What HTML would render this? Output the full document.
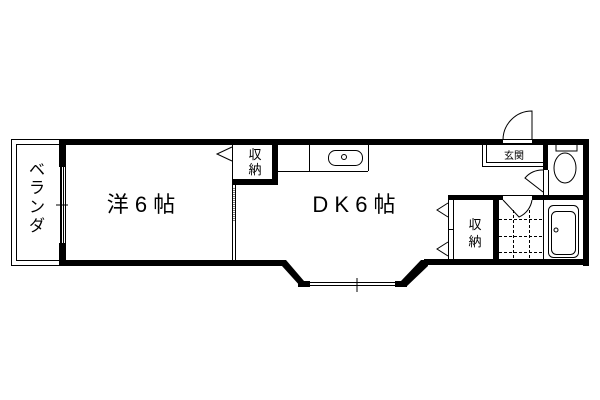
<!DOCTYPE html>
<html><head><meta charset="utf-8"><style>html,body{margin:0;padding:0;background:#fff}svg{display:block}</style></head><body>
<svg width="600" height="400" viewBox="0 0 600 400" xmlns="http://www.w3.org/2000/svg" font-family="Liberation Sans, Noto Sans CJK JP, sans-serif">
<rect width="600" height="400" fill="#fff"/>
<!-- balcony -->
<rect x="11.5" y="139.5" width="50" height="126" fill="none" stroke="#000"/>
<rect x="16.5" y="144.5" width="44" height="116" fill="none" stroke="#000"/>
<g font-size="16" text-anchor="middle" fill="#000">
<text x="37" y="175">ベ</text><text x="37" y="193">ラ</text><text x="37" y="212">ン</text><text x="37" y="231">ダ</text>
</g>
<line x1="56" y1="205" x2="68" y2="205" stroke="#000"/>
<!-- main walls -->
<g fill="#000">
<rect x="59" y="139" width="530" height="6"/>
<rect x="59" y="139" width="7" height="28"/>
<rect x="59" y="243" width="7" height="23"/>
<rect x="59" y="260" width="225" height="6"/>
<polygon points="281,260 286,260 304,281 301,287 282,266"/>
<rect x="298" y="281" width="12" height="6"/>
<rect x="395" y="281" width="12" height="6"/>
<polygon points="401,281 421,260 428,260 428,266 406,287"/>
<rect x="424" y="259" width="165" height="6"/>
<rect x="583" y="139" width="6" height="127"/>
<rect x="272" y="139" width="6" height="46"/>
<rect x="232" y="179" width="46" height="6"/>
<rect x="543" y="139" width="5" height="31"/>
<rect x="448" y="195" width="55" height="5"/>
<rect x="532" y="195" width="57" height="5"/>
<rect x="493" y="195" width="6" height="70"/>
<rect x="503" y="195" width="29" height="1"/>
</g>
<rect x="503" y="139" width="29" height="5" fill="#fff"/>
<line x1="503" y1="139.5" x2="532" y2="139.5" stroke="#000"/>
<line x1="503" y1="143.5" x2="532" y2="143.5" stroke="#000"/>
<g fill="none" stroke="#000" stroke-width="1">
<path d="M503 140 A29 29 0 0 1 532 111 L532 140"/>
<line x1="61.5" y1="167" x2="61.5" y2="243"/><line x1="63.5" y1="167" x2="63.5" y2="243"/><line x1="65.5" y1="167" x2="65.5" y2="243"/>
<line x1="310" y1="282.5" x2="395" y2="282.5"/><line x1="310" y1="285.5" x2="395" y2="285.5"/>
<line x1="357" y1="278" x2="357" y2="292"/>
<line x1="232.5" y1="185" x2="232.5" y2="260"/><line x1="235.5" y1="185" x2="235.5" y2="260"/>
<line x1="234" y1="188" x2="234" y2="222" stroke-dasharray="1,1"/>
<line x1="232.5" y1="145" x2="232.5" y2="179"/>
<polyline points="232,147 217,154 232,161"/>
<line x1="278" y1="171.5" x2="368" y2="171.5"/>
<line x1="368.5" y1="145" x2="368.5" y2="171"/>
<line x1="309.5" y1="145" x2="309.5" y2="171"/>
<rect x="328.5" y="150.5" width="34" height="15" rx="7"/>
<circle cx="344" cy="157" r="2.5"/>
<rect x="482.5" y="144.5" width="61" height="22"/>
<polyline points="486.5,145 486.5,162.5 543,162.5"/>
<line x1="548.5" y1="170" x2="548.5" y2="195"/>
<line x1="543.5" y1="170" x2="543.5" y2="195"/>
<path d="M543 170 A22 22 0 0 0 525 178 L543 192"/>
<path d="M556 145 L556 151 L577 151 L577 145"/>
<ellipse cx="565" cy="168" rx="11" ry="15"/>
<line x1="448.5" y1="200" x2="448.5" y2="259"/><line x1="453.5" y1="200" x2="453.5" y2="259"/>
<line x1="448" y1="229.5" x2="453" y2="229.5"/>
<polyline points="448,203 437,210 448,217"/>
<polyline points="448,242 437,249 448,256"/>
<path d="M503 200 L519 217 A22 22 0 0 0 532 200"/>
<g stroke-dasharray="3,2">
<line x1="499" y1="219.5" x2="543" y2="219.5"/><line x1="499" y1="236.5" x2="543" y2="236.5"/><line x1="499" y1="252.5" x2="543" y2="252.5"/>
<line x1="513.5" y1="210" x2="513.5" y2="259"/><line x1="529.5" y1="210" x2="529.5" y2="259"/>
</g>
<line x1="543.5" y1="200" x2="543.5" y2="259"/>
<rect x="548.5" y="205.5" width="30" height="52" rx="5"/>
<rect x="551.5" y="211.5" width="24" height="43" rx="5"/>
<circle cx="556" cy="230" r="2"/>
</g>
<g font-size="13" fill="#000" text-anchor="middle">
<text x="255" y="159">収</text><text x="255" y="174">納</text>
<text x="475" y="229">収</text><text x="475" y="246">納</text>
</g>
<text x="514" y="159" font-size="10" text-anchor="middle" fill="#000">玄関</text>
<text x="141" y="212" font-size="22" text-anchor="middle" fill="#000">洋 6 帖</text>
<text x="354" y="212" font-size="22" text-anchor="middle" fill="#000">D K 6 帖</text>
</svg>
</body></html>
